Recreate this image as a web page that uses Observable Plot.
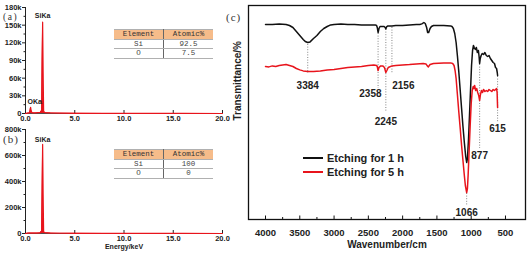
<!DOCTYPE html>
<html><head><meta charset="utf-8">
<script src="https://cdn.jsdelivr.net/npm/d3@7"></script>
<script src="https://cdn.jsdelivr.net/npm/@observablehq/plot@0.6"></script>
<style>
body{margin:0;background:#fff;}
#wrap{position:relative;width:530px;height:256px;overflow:hidden;font-family:"Liberation Sans",Arial,sans-serif;}
#wrap svg{position:absolute;overflow:visible;background:transparent;}
.plabel{position:absolute;font-family:"Liberation Serif","DejaVu Serif",serif;font-size:11px;letter-spacing:1px;color:#333;line-height:8px;}
.plabel.small{font-size:9.5px;letter-spacing:1.5px;}
table.t{position:absolute;border-collapse:collapse;font-family:"Liberation Mono","DejaVu Sans Mono",monospace;font-size:7.5px;color:#444;width:99px;table-layout:fixed;}
table.t td,table.t th{height:8.5px;padding:0;text-align:center;line-height:8px;font-weight:normal;border-bottom:1px solid #b0b0b0;}
table.t th{background:#f6bc8a;color:#333;border-top:1px solid #b0b0b0;}
table.t td:first-child,table.t th:first-child{border-right:1px solid #666;}
.leg{position:absolute;font-size:11px;font-weight:bold;color:#222;line-height:12px;white-space:nowrap;}
.legline{position:absolute;width:20px;height:2px;}
</style></head><body><div id="wrap"></div><script>
// ---------- data ----------
const edsXTicks = [0, 5, 10, 15, 20];
const edsYTicksA = [0, 30000, 60000, 90000, 120000, 150000, 180000];
const edsYMinorA = [15000, 45000, 75000, 105000, 135000, 165000];
const edsYTicksB = [0, 200000, 400000, 600000, 800000];
const edsYMinorB = [100000, 300000, 500000, 700000];

const energyA = [0, 0.2, 0.4, 0.47, 0.52, 0.57, 0.65, 1.0, 1.5, 1.64, 1.69, 1.74, 1.79, 1.84, 1.95, 2.5, 3.5, 5, 8, 12, 16, 20];
const countsA = [0, 600, 1200, 6000, 10500, 5000, 1200, 1000, 1800, 5000, 90000, 155000, 70000, 4000, 1500, 900, 600, 300, 200, 100, 60, 0];
const energyB = [0, 0.3, 0.52, 0.8, 1.2, 1.5, 1.64, 1.69, 1.74, 1.79, 1.84, 1.95, 2.5, 3.5, 5, 8, 12, 16, 20];
const countsB = [0, 3000, 4000, 3000, 3000, 5000, 20000, 350000, 685000, 300000, 15000, 6000, 3000, 2000, 1500, 800, 500, 300, 0];

const tableHeader = ["Element", "Atomic%"];
const elements = ["Si", "O"];
const atomicA = ["92.5", "7.5"];
const atomicB = ["100", "0"];

const wnTicks = [4000, 3500, 3000, 2500, 2000, 1500, 1000, 500];
const wnMinor = [3750, 3250, 2750, 2250, 1750, 1250, 750];

const wnBlack = [4000,3900,3800,3700,3650,3600,3550,3500,3450,3420,3384,3350,3300,3250,3200,3150,3100,3050,3000,2900,2800,2700,2600,2500,2400,2380,2370,2358,2345,2330,2300,2270,2255,2245,2235,2215,2156,2100,2000,1900,1800,1750,1720,1690,1670,1650,1635,1620,1600,1580,1550,1500,1400,1300,1280,1260,1240,1220,1200,1180,1160,1140,1120,1100,1080,1066,1055,1040,1025,1010,995,980,967,955,940,925,910,895,885,877,868,855,840,820,800,780,760,740,720,700,680,660,645,630,620,615];
const tBlack = [97.5,97.5,97.8,97.5,97,96,94,92,90,89,88.5,88.8,90.5,92,94,95.5,96.5,97.3,97.5,97.8,97.5,97.5,97.3,97.3,97.3,97,96,93.5,95.5,96.5,96.5,96.5,96,95.3,96.3,96.8,96.8,97,97,97.3,97.5,97.5,97.8,98.5,98,96,93.5,93.5,95.5,96.5,97,97,97,96.8,96.5,95.5,93,88.5,81.5,73.5,64.5,55.5,46.5,38.5,31.5,28.5,30.5,39.5,52,64.5,77,84.5,87,86,85,86,83.5,84.5,81.5,78,80.5,82,83,82.5,83.5,82,81.5,82,80.5,79.5,78.5,78,76,75.5,73.5,72];

const wnRed = [4000,3950,3900,3850,3800,3750,3700,3650,3600,3550,3500,3450,3384,3300,3200,3100,3000,2900,2800,2700,2600,2500,2420,2380,2370,2358,2345,2320,2290,2265,2245,2230,2210,2156,2100,2000,1900,1800,1700,1660,1640,1625,1600,1550,1400,1300,1270,1250,1235,1220,1200,1180,1160,1140,1120,1100,1085,1066,1055,1045,1030,1015,1000,985,970,960,950,935,920,905,890,877,865,850,835,820,800,780,760,740,720,700,680,660,645,630,622,615];
const tRed = [76.5,76.3,76.8,76.5,77,77.3,77.5,77,76.5,75.5,74.8,74.3,74,74,74.3,74.8,75,75.5,76,76.3,76.5,77,77.3,77,76.5,74.5,76,76.8,76.8,76,73.5,74.5,76,76.8,77,77.3,77.5,77.8,78,77.8,76.8,76.3,77.5,78,78.3,78.3,78,77,74.5,70.5,62,53.5,45.5,37,29.5,22,17,13.5,15.5,22,34.5,47,58,64.5,66.5,65.5,67,64.5,65.5,63.5,62,59.5,62.5,64.5,63.5,65,64,64.5,64,65,64.5,64,65,64.5,65,65.5,63.5,56];

const peakWn = [3384, 2358, 2245, 2156, 1066, 877, 615];
const peakLabel = ["3384", "2358", "2245", "2156", "1066", "877", "615"];
const dotTop = [87.5, 93, 95, 96, 13, 77.5, 71.5];
const dotBottom = [73, 65.5, 53.5, 73, 6.5, 35.5, 48.5];
const labelWn = [3384, 2470, 2245, 1990, 1066, 877, 615];
const labelT = [67, 63, 49, 67, 3.5, 32, 45.5];

const seriesNames = ["Etching for 1 h", "Etching for 5 h"];
const seriesColors = ["#111111", "#e8141c"];

// ---------- helpers ----------
const wrap = document.getElementById("wrap");
const fmtK = d => d === 0 ? "0" : `${d / 1000}k`;
const svgStyle = {fontFamily: "'Liberation Sans', Arial, sans-serif", background: "transparent", overflow: "visible", color: "#222"};
function place(el, left, top) { el.style.left = left + "px"; el.style.top = top + "px"; wrap.appendChild(el); }

function edsPanel(energy, counts, yMax, yTicks, yMinor, height, marginBottom, withXLabel, peakLabels) {
  const rows = energy.map((e, i) => ({e, c: counts[i]}));
  const marks = [
    Plot.areaY(rows, {x: "e", y: "c", fill: seriesColors[1], curve: "linear"}),
    Plot.ruleX([0], {stroke: "#222", strokeWidth: 1}),
    Plot.ruleY([0], {stroke: "#222", strokeWidth: 0.8}),
    Plot.axisY({ticks: yTicks, tickSize: 3, tickPadding: 1, tickFormat: fmtK, fontSize: 7.5, fontWeight: "bold", label: null, stroke: "#222"}),
    Plot.axisY({ticks: yMinor, tickSize: 1.5, text: null, label: null, stroke: "#222"}),
    Plot.axisX({ticks: edsXTicks, tickSize: 0, tickPadding: 2, tickFormat: d3.format(".1f"), fontSize: 7.5, fontWeight: "bold", label: null}),
    Plot.axisX({ticks: edsXTicks, tickSize: 3, text: null, label: null, dy: -3, stroke: "#222"}),
    Plot.line(rows, {x: "e", y: "c", stroke: seriesColors[1], strokeWidth: 1.2}),
    ...peakLabels
  ];
  if (withXLabel) marks.push(Plot.text(["Energy/keV"], {frameAnchor: "bottom", dy: 15, fontSize: 7, fontWeight: "bold", fill: "#222"}));
  return Plot.plot({
    width: 232, height, marginLeft: 25, marginRight: 10, marginTop: 7, marginBottom,
    x: {domain: [0, 20], axis: null}, y: {domain: [0, yMax], axis: null},
    style: svgStyle, marks
  });
}

// ---------- panel (a) ----------
const pa = edsPanel(energyA, countsA, 180000, edsYTicksA, edsYMinorA, 124, 11, false, [
  Plot.text(["SiKa"], {x: 1.74, y: 155000, dy: -6, fontSize: 7, fontWeight: "bold", fill: "#222"}),
  Plot.text(["OKa"], {x: 0.52, y: 10500, dy: -6, dx: -3, textAnchor: "start", fontSize: 7, fontWeight: "bold", fill: "#222"})
]);
place(pa, 0, 0);

// ---------- panel (b) ----------
const pb = edsPanel(energyB, countsB, 800000, edsYTicksB, edsYMinorB, 134, 23, true, [
  Plot.text(["SiKa"], {x: 1.74, y: 685000, dy: -5, fontSize: 7, fontWeight: "bold", fill: "#222"})
]);
place(pb, 0, 122);

// ---------- tables ----------
function makeTable(values, left, top) {
  const t = document.createElement("table");
  t.className = "t";
  let html = `<tr><th>${tableHeader[0]}</th><th>${tableHeader[1]}</th></tr>`;
  elements.forEach((el, i) => { html += `<tr><td>${el}</td><td>${values[i]}</td></tr>`; });
  t.innerHTML = html;
  place(t, left, top);
}
makeTable(atomicA, 114, 29);
makeTable(atomicB, 114, 149);

// ---------- panel (c) ----------
const black = wnBlack.map((w, i) => ({w, t: tBlack[i]}));
const red = wnRed.map((w, i) => ({w, t: tRed[i]}));
const peaks = peakWn.map((w, i) => ({w, top: dotTop[i], bottom: dotBottom[i], lw: labelWn[i], lt: labelT[i], label: peakLabel[i]}));
const pc = Plot.plot({
  width: 305, height: 256, marginLeft: 23, marginRight: 5, marginTop: 5, marginBottom: 37,
  x: {domain: [4248, 208], axis: null}, y: {domain: [0, 107], axis: null},
  style: svgStyle,
  marks: [
    Plot.ruleX(peaks, {x: "w", y1: "top", y2: "bottom", stroke: "#777", strokeWidth: 0.9, strokeDasharray: "1,1.6"}),
    Plot.line(black, {x: "w", y: "t", stroke: seriesColors[0], strokeWidth: 1.5}),
    Plot.line(red, {x: "w", y: "t", stroke: seriesColors[1], strokeWidth: 1.5}),
    Plot.text(peaks, {x: "lw", y: "lt", text: "label", fontSize: 10, fontWeight: "bold", fill: "#222"}),
    Plot.frame({stroke: "#111", strokeWidth: 1.3}),
    Plot.axisX({ticks: wnTicks, tickSize: 0, tickPadding: 10, tickFormat: d3.format("d"), fontSize: 9.5, fontWeight: "bold", label: null}),
    Plot.axisX({ticks: wnTicks, tickSize: 3.5, text: null, label: null, dy: -3.5, stroke: "#111"}),
    Plot.axisX({ticks: wnMinor, tickSize: 2, text: null, label: null, dy: -2, stroke: "#111"}),
    Plot.text(["Wavenumber/cm"], {frameAnchor: "bottom", dy: 28, fontSize: 10, fontWeight: "bold", fill: "#222"}),
    Plot.text(["Transmittance/%"], {frameAnchor: "left", rotate: -90, dx: -11, dy: 8, fontSize: 10, fontWeight: "bold", fill: "#222"})
  ]
});
place(pc, 225, 0);

// ---------- legend ----------
seriesNames.forEach((name, i) => {
  const ln = document.createElement("div");
  ln.className = "legline";
  ln.style.background = seriesColors[i];
  place(ln, 303, 157 + i * 14);
  const tx = document.createElement("div");
  tx.className = "leg";
  tx.textContent = name;
  place(tx, 327, 152 + i * 14);
});

// ---------- panel letters ----------
[["(a)", 3, 12.75, "plabel small"], ["(b)", 3, 135, "plabel"], ["(c)", 226, 13, "plabel"]].forEach(([s, l, t, c]) => {
  const d = document.createElement("div");
  d.className = c;
  d.textContent = s;
  place(d, l, t);
});
</script></body></html>
